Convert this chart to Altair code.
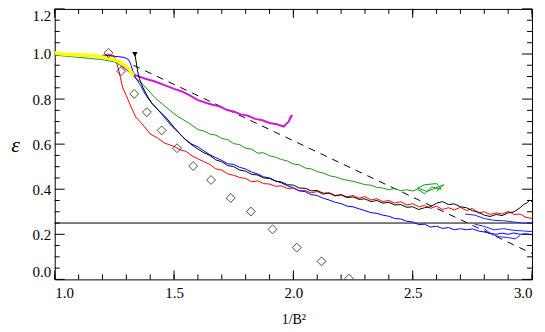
import altair as alt
import pandas as pd

# ---------------- data ----------------
yellow_x = [1.00, 1.03, 1.06, 1.09, 1.12, 1.15, 1.18, 1.21, 1.24, 1.27, 1.29, 1.31, 1.32, 1.33]
yellow_y = [1.005, 1.0, 0.998, 0.997, 0.996, 0.994, 0.99, 0.985, 0.978, 0.965, 0.952, 0.935, 0.92, 0.905]

green_x = [1.00, 1.05, 1.10, 1.15, 1.20, 1.25, 1.30, 1.33, 1.36, 1.40, 1.42, 1.46, 1.50, 1.52, 1.56,
           1.60, 1.625, 1.65, 1.675, 1.70, 1.725, 1.75, 1.775, 1.80, 1.825, 1.85, 1.875, 1.90, 1.925, 1.95,
           1.975, 2.00, 2.025, 2.05, 2.075, 2.10, 2.125, 2.15, 2.175, 2.20, 2.225, 2.25, 2.275, 2.30, 2.325,
           2.35, 2.375, 2.40, 2.425, 2.45, 2.475, 2.50, 2.52, 2.55, 2.58, 2.62, 2.60, 2.55, 2.52, 2.56,
           2.63, 2.60]
green_y = [0.995, 0.99, 0.985, 0.98, 0.975, 0.965, 0.935, 0.90, 0.875, 0.83, 0.806, 0.77, 0.735, 0.72, 0.695,
           0.665, 0.658, 0.645, 0.64, 0.625, 0.62, 0.602, 0.598, 0.582, 0.578, 0.56, 0.562, 0.548, 0.542, 0.532,
           0.525, 0.512, 0.508, 0.494, 0.49, 0.478, 0.472, 0.46, 0.455, 0.446, 0.44, 0.435, 0.428, 0.42, 0.418,
           0.408, 0.405, 0.398, 0.403, 0.393, 0.398, 0.392, 0.40, 0.38, 0.41, 0.40, 0.425, 0.42, 0.405, 0.39,
           0.42, 0.39]

magenta_x = [1.28, 1.31, 1.34, 1.38, 1.42, 1.46, 1.50, 1.53, 1.56, 1.60, 1.63, 1.66, 1.69, 1.72, 1.75,
             1.78, 1.81, 1.84, 1.87, 1.90, 1.93, 1.96, 1.97, 1.98, 1.99, 1.985, 1.995]
magenta_y = [0.95, 0.925, 0.905, 0.89, 0.878, 0.862, 0.845, 0.835, 0.82, 0.795, 0.785, 0.775, 0.768, 0.752,
             0.745, 0.732, 0.726, 0.712, 0.706, 0.694, 0.688, 0.678, 0.69, 0.70, 0.725, 0.71, 0.73]

red_x = [1.00, 1.05, 1.10, 1.15, 1.20, 1.22, 1.25, 1.26, 1.27, 1.285, 1.30, 1.32, 1.34, 1.37, 1.40, 1.43,
         1.46, 1.50, 1.525, 1.55, 1.575, 1.60, 1.625, 1.65, 1.675, 1.70, 1.725, 1.75, 1.775, 1.80, 1.825,
         1.85, 1.875, 1.90, 1.925, 1.95, 1.975, 2.00, 2.025, 2.05, 2.075, 2.10, 2.125, 2.15, 2.175, 2.20,
         2.225, 2.25, 2.275, 2.30, 2.325, 2.35, 2.375, 2.40, 2.425, 2.45, 2.475, 2.50, 2.525, 2.55, 2.575,
         2.60, 2.625, 2.65, 2.675, 2.70, 2.725, 2.75, 2.775, 2.80, 2.825, 2.85, 2.875, 2.90, 2.925, 2.95,
         2.975, 3.00]
red_y = [0.998, 0.995, 0.993, 0.99, 0.99, 1.0, 0.99, 0.96, 0.92, 0.85, 0.815, 0.765, 0.72, 0.685, 0.645, 0.628,
         0.605, 0.59, 0.575, 0.568, 0.548, 0.535, 0.522, 0.51, 0.49, 0.485, 0.468, 0.462, 0.452, 0.448, 0.433,
         0.437, 0.425, 0.423, 0.413, 0.415, 0.403, 0.405, 0.393, 0.394, 0.384, 0.39, 0.378, 0.382, 0.37, 0.376,
         0.366, 0.372, 0.36, 0.367, 0.352, 0.358, 0.345, 0.35, 0.338, 0.345, 0.33, 0.336, 0.322, 0.328, 0.315,
         0.325, 0.31, 0.318, 0.308, 0.32, 0.305, 0.315, 0.295, 0.30, 0.288, 0.295, 0.29, 0.302, 0.288, 0.29,
         0.275, 0.27]

black_x = [1.336, 1.342, 1.348, 1.354, 1.37, 1.39, 1.41, 1.44, 1.465, 1.50, 1.535, 1.57, 1.60, 1.625, 1.65,
           1.675, 1.70, 1.725, 1.75, 1.775, 1.80, 1.825, 1.85, 1.875, 1.90, 1.925, 1.95, 1.975, 2.00, 2.025,
           2.05, 2.075, 2.10, 2.125, 2.15, 2.175, 2.20, 2.225, 2.25, 2.275, 2.30, 2.325, 2.35, 2.375, 2.40,
           2.425, 2.45, 2.475, 2.50, 2.525, 2.55, 2.575, 2.60, 2.625, 2.65, 2.675, 2.70, 2.725, 2.75, 2.775,
           2.80, 2.825, 2.85, 2.875, 2.90, 2.925, 2.95, 2.965, 2.98, 2.99, 3.00]
black_y = [0.998, 0.96, 0.92, 0.893, 0.85, 0.81, 0.777, 0.745, 0.72, 0.675, 0.633, 0.60, 0.578, 0.562, 0.55,
           0.53, 0.522, 0.505, 0.50, 0.485, 0.48, 0.466, 0.463, 0.45, 0.448, 0.436, 0.432, 0.42, 0.418, 0.405,
           0.404, 0.393, 0.394, 0.382, 0.384, 0.372, 0.375, 0.363, 0.366, 0.355, 0.357, 0.345, 0.35, 0.338, 0.342,
           0.33, 0.332, 0.32, 0.322, 0.31, 0.318, 0.322, 0.338, 0.345, 0.332, 0.335, 0.322, 0.318, 0.305, 0.298,
           0.285, 0.279, 0.288, 0.283, 0.295, 0.30, 0.318, 0.332, 0.34, 0.352, 0.345]

blue_x = [1.20, 1.25, 1.29, 1.31, 1.32, 1.33, 1.34, 1.36, 1.38, 1.40, 1.43, 1.451, 1.49, 1.52, 1.55, 1.575,
          1.60, 1.625, 1.65, 1.675, 1.70, 1.725, 1.75, 1.775, 1.80, 1.825, 1.85, 1.875, 1.90, 1.925, 1.95,
          1.975, 2.00, 2.025, 2.05, 2.075, 2.10, 2.125, 2.15, 2.175, 2.20, 2.225, 2.25, 2.275, 2.30, 2.325,
          2.35, 2.375, 2.40, 2.425, 2.45, 2.475, 2.50, 2.525, 2.55, 2.575, 2.60, 2.625, 2.65, 2.675, 2.70,
          2.725, 2.75, 2.775, 2.80, 2.825, 2.85, 2.875, 2.90, 2.925, 2.95, 2.975, 3.00]
blue_y = [0.995, 0.99, 0.985, 0.975, 0.95, 0.915, 0.893, 0.86, 0.82, 0.79, 0.755, 0.73, 0.68, 0.65, 0.618, 0.60,
          0.588, 0.57, 0.553, 0.54, 0.528, 0.513, 0.51, 0.497, 0.49, 0.476, 0.468, 0.455, 0.45, 0.437, 0.428,
          0.415, 0.406, 0.393, 0.389, 0.376, 0.372, 0.36, 0.352, 0.342, 0.336, 0.325, 0.322, 0.313, 0.305, 0.296,
          0.293, 0.285, 0.28, 0.27, 0.268, 0.258, 0.255, 0.243, 0.245, 0.232, 0.236, 0.226, 0.23, 0.22, 0.225,
          0.22, 0.224, 0.215, 0.21, 0.205, 0.20, 0.205, 0.20, 0.206, 0.20, 0.202, 0.198]

blue2_x = [2.72, 2.76, 2.80, 2.84, 2.88, 2.92, 2.96, 3.00]
blue2_y = [0.29, 0.285, 0.27, 0.262, 0.26, 0.255, 0.25, 0.248]
blue3_x = [2.76, 2.80, 2.84, 2.88, 2.92, 2.96, 3.00]
blue3_y = [0.245, 0.235, 0.22, 0.225, 0.218, 0.215, 0.212]
blue4_x = [2.80, 2.83, 2.86, 2.90, 2.93, 2.95]
blue4_y = [0.225, 0.20, 0.19, 0.185, 0.18, 0.195]

diamond_x = [1.225, 1.278, 1.333, 1.386, 1.448, 1.5125, 1.580, 1.655, 1.7375, 1.822, 1.9125, 2.014, 2.118, 2.233]
diamond_y = [1.005, 0.924, 0.823, 0.742, 0.661, 0.582, 0.503, 0.441, 0.361, 0.301, 0.222, 0.141, 0.080, 0.003]

dash_x = [1.33, 3.00]
dash_y = [0.95, 0.115]

hline_y = [0.25]

marker_x = [1.336]
marker_y = [0.998]

x_major = [1.0, 1.5, 2.0, 2.5, 3.0]
x_minor = [1.0, 1.1, 1.2, 1.3, 1.4, 1.5, 1.6, 1.7, 1.8, 1.9, 2.0, 2.1, 2.2, 2.3, 2.4, 2.5, 2.6, 2.7, 2.8, 2.9, 3.0]
y_major = [0.0, 0.2, 0.4, 0.6, 0.8, 1.0, 1.2]
y_minor = [0.05, 0.1, 0.15, 0.25, 0.3, 0.35, 0.45, 0.5, 0.55, 0.65, 0.7, 0.75, 0.85, 0.9, 0.95, 1.05, 1.1, 1.15]

# ---------------- chart ----------------
W, H = 480, 272
FONT = "Liberation Serif"
xsc = alt.Scale(domain=[1.0, 3.0], nice=False, zero=False)
ysc = alt.Scale(domain=[0.0, 1.2], nice=False, zero=False)


def frame(xs, ys):
    return pd.DataFrame({"x": xs, "y": ys, "o": list(range(len(xs)))})


def line(xs, ys, color, width=1.0, dash=None):
    kw = dict(color=color, strokeWidth=width, clip=True)
    if dash:
        kw["strokeDash"] = dash
    return alt.Chart(frame(xs, ys)).mark_line(**kw).encode(
        x=alt.X("x:Q", scale=xsc, axis=None),
        y=alt.Y("y:Q", scale=ysc, axis=None),
        order="o:Q",
    )


dia_df = frame(diamond_x, diamond_y)

label_layer = alt.Chart(dia_df).mark_point(opacity=0).encode(
    x=alt.X("x:Q", scale=xsc, axis=alt.Axis(
        orient="bottom", values=x_major, format=".1f", ticks=False, domain=False, grid=False,
        labelFont=FONT, labelFontSize=15, labelColor="black", labelPadding=6,
        title="1/B²", titleFont=FONT, titleFontSize=14, titleFontWeight="normal",
        titleColor="black", titleX=W / 2, titleY=40, titleBaseline="middle", titleAlign="center")),
    y=alt.Y("y:Q", scale=ysc, axis=alt.Axis(
        orient="left", values=y_major, format=".1f", ticks=False, domain=False, grid=False,
        labelFont=FONT, labelFontSize=15, labelColor="black", labelPadding=4, labelFlush=True,
        title="ε", titleFont=FONT, titleFontSize=22, titleFontWeight="normal",
        titleFontStyle="italic", titleColor="black", titleAngle=0, titleX=-40, titleY=H / 2,
        titleBaseline="middle", titleAlign="center")),
)


def xticks(values, length, top):
    y0, y1 = (0, length) if top else (H, H - length)
    return alt.Chart(pd.DataFrame({"x": values})).mark_rule(color="black", strokeWidth=1).encode(
        x=alt.X("x:Q", scale=xsc, axis=None), y=alt.value(y0), y2=alt.value(y1))


def yticks(values, length, right):
    x0, x1 = (W, W - length) if right else (0, length)
    return alt.Chart(pd.DataFrame({"y": values})).mark_rule(color="black", strokeWidth=1).encode(
        y=alt.Y("y:Q", scale=ysc, axis=None), x=alt.value(x0), x2=alt.value(x1))


tick_layers = [
    xticks(x_major, 9, False), xticks(x_minor, 5, False),
    xticks(x_major, 9, True), xticks(x_minor, 5, True),
    yticks(y_major, 10, False), yticks(y_minor, 5, False),
    yticks(y_major, 10, True), yticks(y_minor, 5, True),
]

hline = alt.Chart(pd.DataFrame({"y": hline_y})).mark_rule(color="black", strokeWidth=1).encode(
    y=alt.Y("y:Q", scale=ysc, axis=None))

dashed = line(dash_x, dash_y, "black", 1.0, dash=[7, 6])

series = [
    line(green_x, green_y, "#139a13", 1.0),
    line(magenta_x, magenta_y, "#d21ad2", 2.0),
    line(red_x, red_y, "#ff0000", 1.0),
    line(blue_x, blue_y, "#0000ff", 1.0),
    line(blue2_x, blue2_y, "#2020ff", 1.0),
    line(blue3_x, blue3_y, "#2020ff", 1.0),
    line(blue4_x, blue4_y, "#2020ff", 1.0),
    line(black_x, black_y, "black", 1.0),
    line(yellow_x, yellow_y, "#ffff00", 3.5),
]

diamonds = alt.Chart(dia_df).mark_point(shape="diamond", filled=False, color="black", size=80,
                                         strokeWidth=1, clip=True).encode(
    x=alt.X("x:Q", scale=xsc, axis=None), y=alt.Y("y:Q", scale=ysc, axis=None))

marker = alt.Chart(frame(marker_x, marker_y)).mark_point(shape="triangle-down", filled=True, color="black",
                                                         size=30, opacity=1).encode(
    x=alt.X("x:Q", scale=xsc, axis=None), y=alt.Y("y:Q", scale=ysc, axis=None))

chart = alt.layer(
    label_layer, *tick_layers, hline, dashed, *series, diamonds, marker
).resolve_axis(
    x="independent", y="independent"
).properties(
    width=W, height=H, autosize="none",
    padding={"left": 47, "top": 0, "right": 5, "bottom": 52},
    background="white",
).configure_view(stroke="black", strokeWidth=1)

chart.save("out.html", embed_options={"renderer": "svg", "actions": False})
